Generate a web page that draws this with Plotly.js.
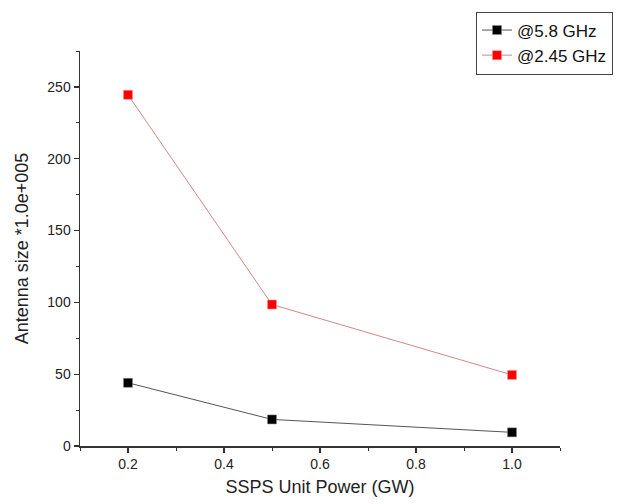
<!DOCTYPE html>
<html>
<head>
<meta charset="utf-8">
<script src="https://cdn.plot.ly/plotly-3.0.1.min.js"></script>
<style>html,body{margin:0;padding:0;background:#fff;}#chart{width:625px;height:504px;}</style>
</head>
<body>
<div id="chart"></div>
<script>
const power = [0.2, 0.5, 1.0];
const size58 = [44, 18.5, 9.5];
const size245 = [244.5, 98.5, 49.5];
const seriesNames = ["@5.8 GHz", "@2.45 GHz"];

const FONT = "Liberation Sans, Arial, sans-serif";

const traces = [
  {
    x: power, y: size58, name: seriesNames[0], type: "scatter", mode: "lines+markers",
    line: {color: "#555555", width: 1},
    marker: {symbol: "square", size: 9, color: "#000000", line: {color: "#888888", width: 0.5}}
  },
  {
    x: power, y: size245, name: seriesNames[1], type: "scatter", mode: "lines+markers",
    line: {color: "#d08888", width: 1},
    marker: {symbol: "square", size: 9, color: "#ff0000", line: {color: "#ff9090", width: 0.5}}
  }
];

const axisCommon = {
  showline: true, linecolor: "#333333", linewidth: 1.5,
  ticks: "outside", ticklen: 5, tickwidth: 1.2, tickcolor: "#333333",
  showgrid: false, zeroline: false,
  tickfont: {family: FONT, size: 14, color: "#222"},
  mirror: false
};

const layout = {
  width: 625, height: 504,
  margin: {l: 80, r: 59, t: 49, b: 58},
  paper_bgcolor: "#fff", plot_bgcolor: "#fff",
  showlegend: true,
  legend: {
    x: 0.825, y: 1.1, xanchor: "left", yanchor: "top",
    bordercolor: "#444", borderwidth: 1, bgcolor: "#fff",
    font: {family: FONT, size: 17, color: "#111"},
    tracegroupgap: 0
  },
  xaxis: Object.assign({}, axisCommon, {
    range: [0.1, 1.1], tick0: 0.2, dtick: 0.2, tickformat: ".1f",
    minor: {dtick: 0.1, tick0: 0.1, ticks: "outside", ticklen: 3, tickcolor: "#333", tickwidth: 1},
    title: {text: "SSPS Unit Power (GW)", font: {family: FONT, size: 18, color: "#222"}, standoff: 9}
  }),
  yaxis: Object.assign({}, axisCommon, {
    range: [0, 275], tick0: 0, dtick: 50,
    minor: {dtick: 25, tick0: 0, ticks: "outside", ticklen: 3, tickcolor: "#333", tickwidth: 1},
    title: {text: "Antenna size *1.0e+005", font: {family: FONT, size: 18, color: "#222"}, standoff: 14}
  })
};

Plotly.newPlot("chart", traces, layout, {displayModeBar: false, staticPlot: true});
</script>
</body>
</html>
